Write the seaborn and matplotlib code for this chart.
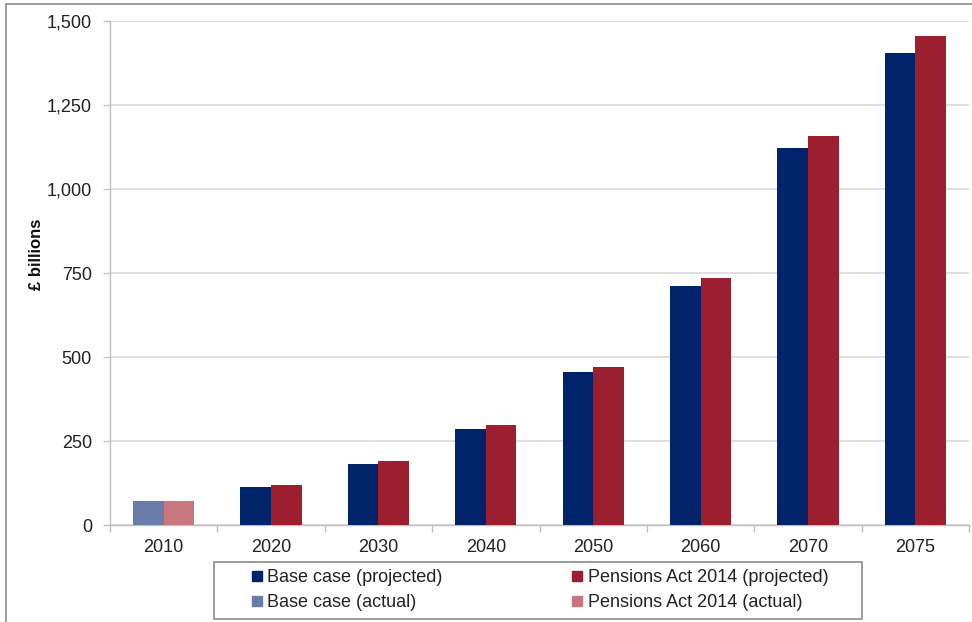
import matplotlib
matplotlib.use("Agg")
import matplotlib.pyplot as plt
import seaborn as sns
import pandas as pd
import numpy as np
from matplotlib.patches import Rectangle
from matplotlib.lines import Line2D
from matplotlib.ticker import FuncFormatter, FixedLocator

years = ["2010", "2020", "2030", "2040", "2050", "2060", "2070", "2075"]
base_case = [70, 113, 181, 287, 455, 711, 1121, 1406]
pensions_act = [70, 119, 190, 298, 470, 736, 1159, 1455]
series_names = ["Base case", "Pensions Act 2014"]
legend_labels = ["Base case (projected)", "Base case (actual)",
                 "Pensions Act 2014 (projected)", "Pensions Act 2014 (actual)"]

col_base_proj = "#00236A"
col_base_act = "#6A7CA8"
col_pa_proj = "#9B1F2F"
col_pa_act = "#C8777F"

df = pd.DataFrame({
    "year": years * 2,
    "value": base_case + pensions_act,
    "series": [series_names[0]] * len(years) + [series_names[1]] * len(years),
})

sns.set_style("white")
plt.rcParams["font.family"] = ["Liberation Sans", "DejaVu Sans"]

W, H = 972, 622
fig = plt.figure(figsize=(W / 100, H / 100), dpi=100)
ax = fig.add_axes([110 / W, 1 - 525 / H, 859 / W, 504 / H])

sns.barplot(data=df, x="year", y="value", hue="series", order=years,
            hue_order=series_names,
            palette=[col_base_proj, col_pa_proj], width=0.57, gap=0,
            saturation=1, legend=False, ax=ax, zorder=3, linewidth=0)

# actual (2010) bars use lighter colours
ax.containers[0][0].set_facecolor(col_base_act)
ax.containers[1][0].set_facecolor(col_pa_act)

ax.set_xlim(-0.5, len(years) - 0.5)
ax.set_ylim(0, 1500)
ax.set_yticks([0, 250, 500, 750, 1000, 1250, 1500])
ax.yaxis.set_major_formatter(FuncFormatter(lambda v, p: f"{int(v):,}"))
ax.grid(axis="y", color="#D9D9D9", linewidth=1.2, zorder=0)
ax.set_axisbelow(True)

for s in ["top", "right"]:
    ax.spines[s].set_visible(False)
for s in ["left", "bottom"]:
    ax.spines[s].set_color("#BFBFBF")
    ax.spines[s].set_linewidth(1.0)

ax.tick_params(axis="y", which="major", left=True, length=5, width=1,
               color="#BFBFBF", labelsize=13, labelcolor="#222222", pad=8)
ax.tick_params(axis="x", which="major", bottom=False, length=0,
               labelsize=13, labelcolor="#222222", pad=10)
ax.xaxis.set_minor_locator(FixedLocator(np.arange(-0.5, len(years), 1.0)))
ax.tick_params(axis="x", which="minor", bottom=True, length=5, width=1,
               color="#BFBFBF")

ax.set_xlabel("")
ax.set_ylabel("£ billions", fontsize=12, fontweight="bold", color="#111111")
ax.yaxis.set_label_coords((44 - 110) / 859, (525 - 254) / 504)

handles = [
    Line2D([], [], marker="s", linestyle="none", markersize=7.5,
           markerfacecolor=col_base_proj, markeredgecolor=col_base_proj),
    Line2D([], [], marker="s", linestyle="none", markersize=7.5,
           markerfacecolor=col_base_act, markeredgecolor=col_base_act),
    Line2D([], [], marker="s", linestyle="none", markersize=7.5,
           markerfacecolor=col_pa_proj, markeredgecolor=col_pa_proj),
    Line2D([], [], marker="s", linestyle="none", markersize=7.5,
           markerfacecolor=col_pa_act, markeredgecolor=col_pa_act),
]
leg = fig.legend(handles, legend_labels, ncol=2, loc="center",
                 bbox_to_anchor=(539.5 / W, 1 - 590 / H),
                 frameon=False, fontsize=13,
                 handlelength=0.7, handletextpad=0.25, columnspacing=7.1,
                 labelspacing=0.45, borderpad=0.0, borderaxespad=0)
for t in leg.get_texts():
    t.set_color("#222222")

# legend frame as in the reference
fig.add_artist(Rectangle((214 / W, 1 - 619 / H), (862 - 214) / W, (619 - 562) / H,
                         transform=fig.transFigure, fill=False,
                         edgecolor="#8C8C8C", linewidth=1.2))

# outer chart frame (only left and top visible in reference)
fig.add_artist(Line2D([6 / W, 6 / W], [0, 1 - 4 / H],
                      transform=fig.transFigure, color="#8C8C8C", linewidth=1.2))
fig.add_artist(Line2D([6 / W, 1], [1 - 4 / H, 1 - 4 / H],
                      transform=fig.transFigure, color="#8C8C8C", linewidth=1.2))

fig.savefig("out.png", dpi=100)
